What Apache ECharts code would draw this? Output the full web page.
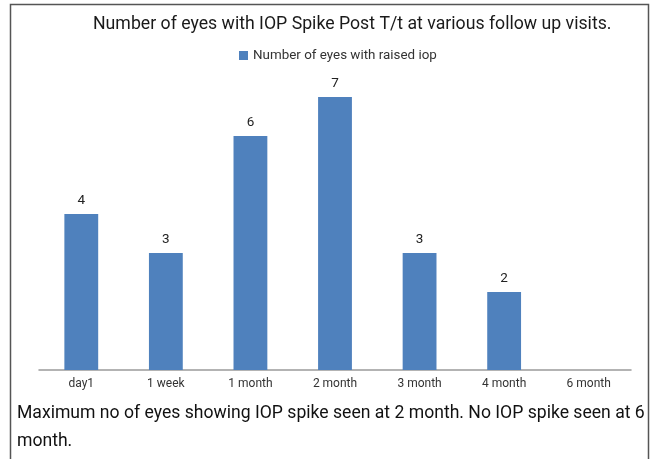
<!DOCTYPE html>
<html><head><meta charset="utf-8">
<script src="https://cdn.jsdelivr.net/npm/echarts@6/dist/echarts.min.js"></script>
<style>html,body{margin:0;padding:0;background:#fff}#c{width:661px;height:459px}</style>
</head><body><div id="c"></div>
<script>
const categories = ['day1','1 week','1 month','2 month','3 month','4 month','6 month'];
const values = [4,3,6,7,3,2,0];
const seriesName = 'Number of eyes with raised iop';
const titleText = 'Number of eyes with IOP Spike Post T/t at various follow up visits.';
const noteText = 'Maximum no of eyes showing IOP spike seen at 2 month. No IOP spike seen at 6\nmonth.';

const chart = echarts.init(document.getElementById('c'));
chart.setOption({
  animation: false,
  textStyle: {fontFamily: 'Roboto'},
  title: {text: titleText, left: 88, top: 11, textStyle: {fontSize: 17.7, fontWeight: 'normal', color: '#1a1a1a', fontFamily: 'Roboto'}},
  legend: {top: 44, left: 234, itemWidth: 9, itemHeight: 9, itemGap: 5, icon: 'rect',
    textStyle: {fontSize: 13.4, color: '#333', fontFamily: 'Roboto'}, data: [seriesName]},
  grid: {left: 39, right: 30, top: 58, bottom: 89},
  xAxis: {type: 'category', data: categories,
    axisLine: {lineStyle: {color: '#9a9a9a', width: 1.5}}, axisTick: {show: false},
    axisLabel: {fontSize: 12, color: '#333', margin: 8, fontFamily: 'Roboto'}},
  yAxis: {type: 'value', min: 0, max: 8, show: false, splitLine: {show: false}},
  series: [{name: seriesName, type: 'bar', data: values, barCategoryGap: '60%',
    itemStyle: {color: '#4f81bd'},
    label: {show: true, position: 'top', distance: 6, fontSize: 13.5, color: '#222',
      formatter: p => p.value > 0 ? p.value : ''}}],
  graphic: [
    {type: 'rect', shape: {x: 10.5, y: 4.5, width: 638, height: 470}, style: {fill: 'none', stroke: '#555', lineWidth: 1.5}, silent: true},
    {type: 'text', left: 17, top: 400, style: {text: noteText, fontSize: 17.6, lineHeight: 28, fill: '#111', fontFamily: 'Roboto'}}
  ]
});
</script></body></html>
